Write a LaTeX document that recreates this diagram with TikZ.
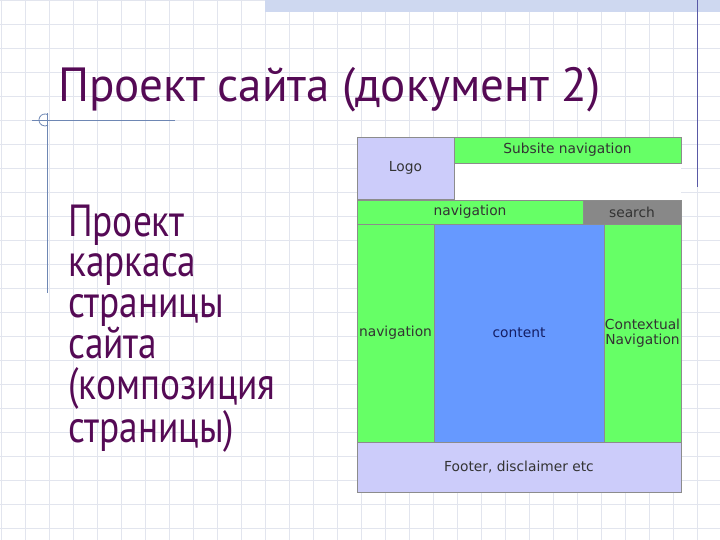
\documentclass[tikz,border=0pt]{standalone}
\usepackage{fontspec}
\setmainfont{PT Sans}
\newfontfamily\boxfont{DejaVu Sans}
\usepackage{tikz}
\usetikzlibrary{positioning}

\definecolor{slidepurple}{RGB}{85,10,85}
\definecolor{gridgray}{RGB}{226,229,238}
\definecolor{ruleblue}{RGB}{110,135,180}
\definecolor{bandblue}{RGB}{206,216,240}
\definecolor{navgreen}{RGB}{102,255,102}
\definecolor{lavender}{RGB}{204,204,250}
\definecolor{contentblue}{RGB}{102,153,255}
\definecolor{searchgray}{RGB}{136,136,136}
\definecolor{edgegray}{RGB}{140,140,140}

\begin{document}
\begin{tikzpicture}[x=1pt,y=-1pt]
		\tikzset{part/.style = {shape=rectangle,draw=edgegray,line width=0.8pt,inner sep=1pt,
				font=\boxfont\fontsize{13.8}{15}\selectfont,text=black!80,align=center}}
		\tikzset{gridline/.style = {draw=gridgray,line width=0.7pt}}
		\tikzset{deco/.style = {draw=ruleblue,line width=0.8pt}}
		
		\useasboundingbox[fill=white] (0,0) rectangle (720,540);
		
		% background grid
		\foreach \gx in {1,25,...,720} \draw[gridline] (\gx,0) -- (\gx,540);
		\foreach \gy in {0,24,...,540} \draw[gridline] (0,\gy) -- (720,\gy);
		
		% slide ornaments
		\fill[bandblue] (265,0) rectangle (720,12);
		\draw[draw=gray!70!blue,line width=0.9pt] (697,0) -- (697,187);
		\draw[deco] (32,120) -- (175,120);
		\draw[deco] (47,113) -- (47,293);
		\draw[deco] (48,114.8) arc[start angle=-60,end angle=-300,radius=6];
		
		% title and text
		\node[anchor=base west,inner sep=0,text=slidepurple,xscale=0.98,font=\fontsize{48}{50}\selectfont]
			(title) at (58,102) {Проект сайта (документ 2)};
		\node[anchor=base west,inner sep=0,text=slidepurple,align=left,xscale=0.83,
			font=\fontsize{45}{40.4}\selectfont]
			(body) at (68,442) {Проект\\каркаса\\страницы\\сайта\\(композиция\\страницы)};
		
		% page layout
		\fill[white] (357,137) rectangle (681,492);
		\node[part,fill=lavender,minimum width=97,minimum height=62] (logo) at (405.5,168) {Logo};
		\node[part,fill=navgreen,minimum width=227,minimum height=26] (subsite) at (567.5,150) {Subsite navigation};
		\node[part,fill=navgreen,minimum width=226,minimum height=24] (navbar) at (470,212) {navigation};
		\node[part,fill=searchgray,minimum width=98,minimum height=24] (search) at (632,212) {search};
		\node[part,fill=navgreen,minimum width=77,minimum height=218] (leftnav) at (395.5,333) {navigation};
		\node[part,fill=contentblue,minimum width=170,minimum height=218,text={rgb,255:red,20;green,30;blue,100}] (content) at (519,333) {content};
		\node[part,fill=navgreen,minimum width=77,minimum height=218] (context) at (642.5,333) {Contextual\\Navigation};
		\node[part,fill=lavender,minimum width=324,minimum height=50] (footer) at (519,467) {Footer, disclaimer etc};
\end{tikzpicture}
\end{document}
